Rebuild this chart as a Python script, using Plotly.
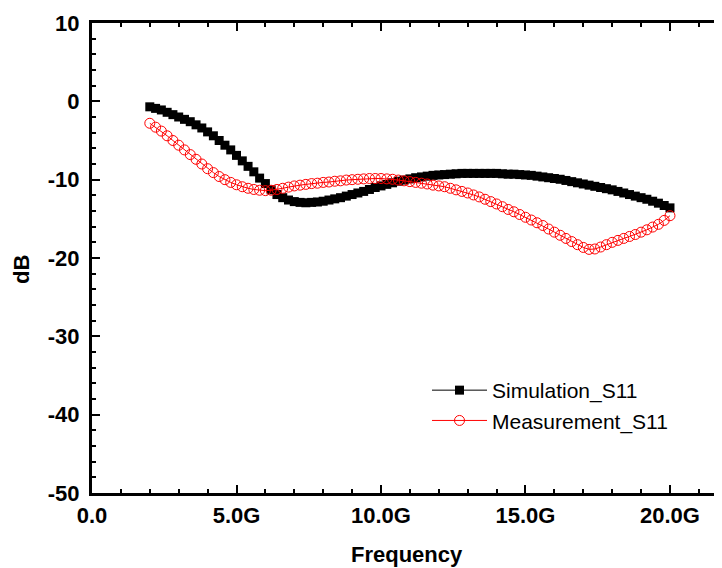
import plotly.graph_objects as go

freq = [2.0, 2.2, 2.4, 2.6, 2.8, 3.0, 3.2, 3.4, 3.6, 3.8,
        4.0, 4.2, 4.4, 4.6, 4.8, 5.0, 5.2, 5.4, 5.6, 5.8,
        6.0, 6.2, 6.4, 6.6, 6.8, 7.0, 7.2, 7.4, 7.6, 7.8,
        8.0, 8.2, 8.4, 8.6, 8.8, 9.0, 9.2, 9.4, 9.6, 9.8,
        10.0, 10.2, 10.4, 10.6, 10.8, 11.0, 11.2, 11.4, 11.6, 11.8,
        12.0, 12.2, 12.4, 12.6, 12.8, 13.0, 13.2, 13.4, 13.6, 13.8,
        14.0, 14.2, 14.4, 14.6, 14.8, 15.0, 15.2, 15.4, 15.6, 15.8,
        16.0, 16.2, 16.4, 16.6, 16.8, 17.0, 17.2, 17.4, 17.6, 17.8,
        18.0, 18.2, 18.4, 18.6, 18.8, 19.0, 19.2, 19.4, 19.6, 19.8,
        20.0]

sim_s11 = [-0.7, -0.9, -1.1, -1.4, -1.7, -2.0, -2.3, -2.6, -3.0, -3.4,
           -3.9, -4.4, -5.0, -5.6, -6.2, -6.9, -7.6, -8.3, -9.0, -9.8,
           -10.5, -11.3, -11.9, -12.3, -12.6, -12.8, -12.9, -12.95, -12.9, -12.85,
           -12.75, -12.6, -12.45, -12.3, -12.1, -11.9, -11.7, -11.5, -11.25, -11.0,
           -10.8, -10.6, -10.4, -10.2, -10.05, -9.9, -9.75, -9.65, -9.55, -9.45,
           -9.4, -9.35, -9.3, -9.25, -9.2, -9.2, -9.2, -9.2, -9.2, -9.2,
           -9.2, -9.25, -9.3, -9.3, -9.35, -9.4, -9.45, -9.55, -9.65, -9.75,
           -9.85, -9.95, -10.1, -10.25, -10.4, -10.55, -10.7, -10.85, -11.0, -11.15,
           -11.3, -11.5, -11.7, -11.9, -12.1, -12.3, -12.5, -12.75, -13.0, -13.3,
           -13.6]

meas_s11 = [-2.8, -3.3, -3.8, -4.4, -5.0, -5.6, -6.2, -6.8, -7.4, -8.0,
            -8.6, -9.1, -9.6, -10.0, -10.35, -10.65, -10.9, -11.1, -11.25, -11.35,
            -11.4, -11.35, -11.25, -11.1, -10.95, -10.8, -10.7, -10.6, -10.5, -10.45,
            -10.35, -10.3, -10.2, -10.15, -10.05, -10.0, -9.95, -9.9, -9.85, -9.85,
            -9.85, -9.9, -9.95, -10.05, -10.15, -10.25, -10.35, -10.45, -10.55, -10.7,
            -10.8, -10.9, -11.1, -11.3, -11.5, -11.7, -11.95, -12.2, -12.5, -12.8,
            -13.1, -13.45, -13.8, -14.1, -14.45, -14.8, -15.15, -15.5, -15.85, -16.3,
            -16.7, -17.1, -17.5, -17.9, -18.3, -18.65, -18.9, -18.85, -18.6, -18.3,
            -18.0, -17.75, -17.5, -17.25, -17.0, -16.7, -16.4, -16.05, -15.7, -15.2,
            -14.6]

x_tickvals = [0, 5, 10, 15, 20]
x_ticktext = ["0.0", "5.0G", "10.0G", "15.0G", "20.0G"]
y_tickvals = [10, 0, -10, -20, -30, -40, -50]
y_ticktext = ["10", "0", "-10", "-20", "-30", "-40", "-50"]

# The page body has an 8px margin, so the figure is drawn 8px in from the
# top-left corner of the window; compensate so that the picture lines up.
OFF = 8
W, H = 722 - OFF, 568 - OFF
ML, MR, MT, MB = 92 - OFF, 0, 23 - OFF, 75
PW, PH = W - ML - MR, H - MT - MB


def px_x(px):
    return (px - OFF - ML) / PW


def px_y(py):
    return (H - MB - (py - OFF)) / PH


fig = go.Figure()
fig.add_trace(go.Scatter(
    x=freq, y=sim_s11, name="Simulation_S11", mode="lines+markers",
    line=dict(color="black", width=1),
    marker=dict(symbol="square", size=9, color="black"),
))
fig.add_trace(go.Scatter(
    x=freq, y=meas_s11, name="Measurement_S11", mode="lines+markers",
    line=dict(color="red", width=1),
    marker=dict(symbol="circle-open", size=10, color="red", line=dict(width=1, color="red")),
))

tickfont = dict(family="Liberation Sans, Arial", size=22, color="black", weight="bold")
axis_common = dict(
    showline=True, linecolor="black", linewidth=3, mirror="allticks",
    ticks="inside", ticklen=8, tickwidth=2, tickcolor="black",
    showgrid=False, zeroline=False, tickfont=tickfont, automargin=False,
)

fig.update_xaxes(
    range=[0, 21.8], tickmode="array", tickvals=x_tickvals, ticktext=x_ticktext,
    minor=dict(dtick=1, tick0=0, ticks="inside", ticklen=4, tickwidth=2, tickcolor="black", showgrid=False),
    ticklabelstandoff=1,
    **axis_common,
)
fig.update_yaxes(
    range=[-50, 10], tickmode="array", tickvals=y_tickvals, ticktext=y_ticktext,
    minor=dict(dtick=2, tick0=0, ticks="inside", ticklen=4, tickwidth=2, tickcolor="black", showgrid=False),
    ticklabelstandoff=5,
    **axis_common,
)

fig.update_layout(
    width=W, height=H,
    margin=dict(l=ML, r=MR, t=MT, b=MB, autoexpand=False),
    paper_bgcolor="white", plot_bgcolor="white",
    showlegend=True,
    legend=dict(
        x=px_x(427), y=px_y(370), xanchor="left", yanchor="top",
        font=dict(family="Liberation Sans, Arial", size=21, color="black"),
        bgcolor="rgba(0,0,0,0)", itemwidth=55, tracegroupgap=0,
    ),
    annotations=[
        dict(text="<b>Frequency</b>", x=px_x(407), y=px_y(554), xref="paper", yref="paper",
             xanchor="center", yanchor="middle", showarrow=False,
             font=dict(family="Liberation Sans, Arial", size=22, color="black")),
        dict(text="<b>dB</b>", x=px_x(21), y=px_y(270), xref="paper", yref="paper",
             xanchor="center", yanchor="middle", textangle=-90, showarrow=False,
             font=dict(family="Liberation Sans, Arial", size=22, color="black")),
    ],
)

fig.write_html("out.html")
